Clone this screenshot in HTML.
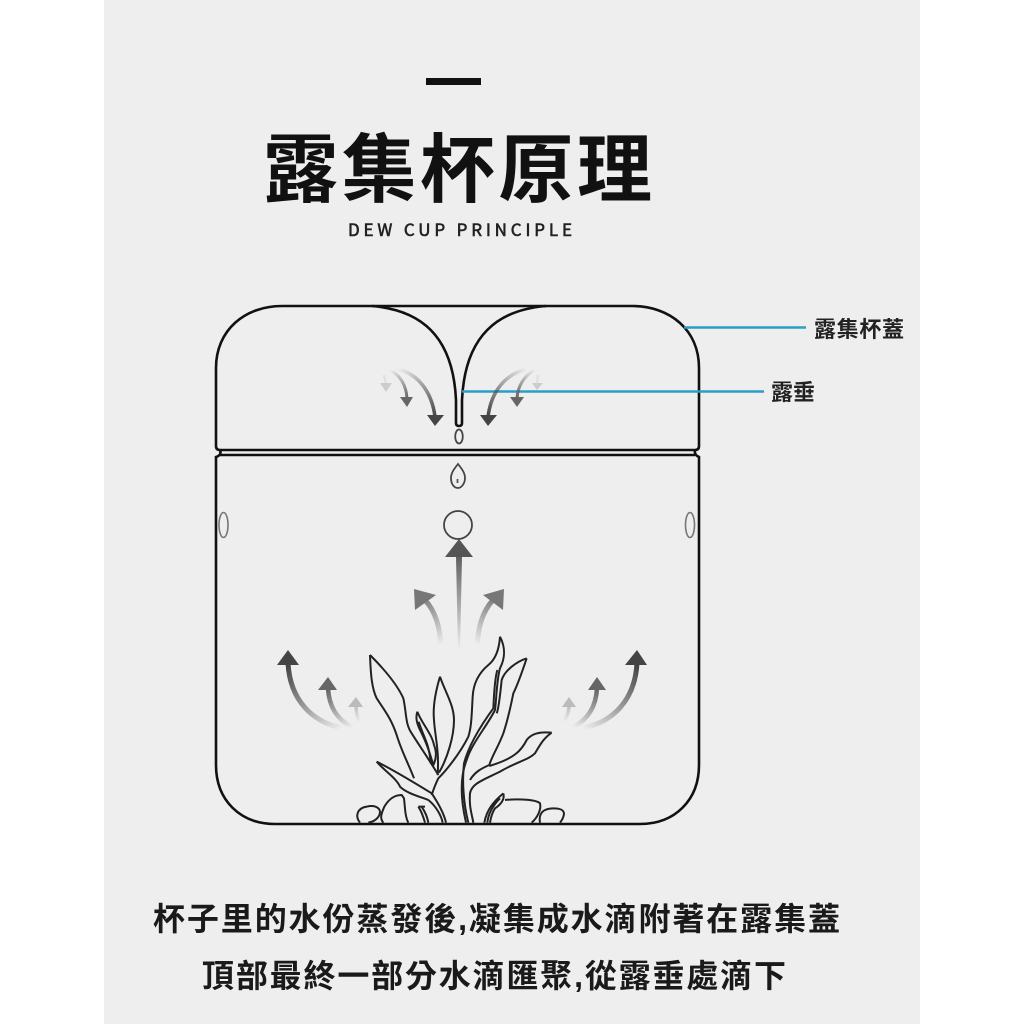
<!DOCTYPE html>
<html><head><meta charset="utf-8"><style>
html,body{margin:0;padding:0;background:#fff}
svg{display:block}
text{font-family:"Liberation Sans","Noto Sans CJK TC",sans-serif}
</style></head><body>
<svg width="1024" height="1024" viewBox="0 0 1024 1024" xmlns="http://www.w3.org/2000/svg">
<defs>
<linearGradient id="vc" gradientUnits="userSpaceOnUse" x1="459" y1="650" x2="459" y2="550"><stop offset="0" stop-color="#555" stop-opacity="0"/><stop offset="1" stop-color="#555"/></linearGradient>
<linearGradient id="u1" gradientUnits="userSpaceOnUse" x1="441" y1="645" x2="425" y2="595"><stop offset="0" stop-color="#777" stop-opacity="0"/><stop offset="1" stop-color="#777"/></linearGradient>
<linearGradient id="u2" gradientUnits="userSpaceOnUse" x1="477" y1="645" x2="493" y2="595"><stop offset="0" stop-color="#777" stop-opacity="0"/><stop offset="1" stop-color="#777"/></linearGradient>
<linearGradient id="l1" gradientUnits="userSpaceOnUse" x1="342" y1="728" x2="288" y2="665"><stop offset="0" stop-color="#444" stop-opacity="0"/><stop offset="1" stop-color="#444"/></linearGradient>
<linearGradient id="l2" gradientUnits="userSpaceOnUse" x1="352" y1="727" x2="328" y2="690"><stop offset="0" stop-color="#666" stop-opacity="0"/><stop offset="1" stop-color="#666"/></linearGradient>
<linearGradient id="l3" gradientUnits="userSpaceOnUse" x1="358" y1="722" x2="356" y2="705"><stop offset="0" stop-color="#bbb" stop-opacity="0"/><stop offset="1" stop-color="#bbb"/></linearGradient>
<linearGradient id="r1" gradientUnits="userSpaceOnUse" x1="583" y1="728" x2="637" y2="665"><stop offset="0" stop-color="#444" stop-opacity="0"/><stop offset="1" stop-color="#444"/></linearGradient>
<linearGradient id="r2" gradientUnits="userSpaceOnUse" x1="573" y1="727" x2="597" y2="690"><stop offset="0" stop-color="#666" stop-opacity="0"/><stop offset="1" stop-color="#666"/></linearGradient>
<linearGradient id="r3" gradientUnits="userSpaceOnUse" x1="564" y1="722" x2="569" y2="705"><stop offset="0" stop-color="#bbb" stop-opacity="0"/><stop offset="1" stop-color="#bbb"/></linearGradient>
<linearGradient id="a1" gradientUnits="userSpaceOnUse" x1="398" y1="369" x2="435" y2="417"><stop offset="0" stop-color="#444" stop-opacity="0"/><stop offset="1" stop-color="#444"/></linearGradient>
<linearGradient id="a2" gradientUnits="userSpaceOnUse" x1="390" y1="370" x2="407" y2="398"><stop offset="0" stop-color="#666" stop-opacity="0"/><stop offset="1" stop-color="#666"/></linearGradient>
<linearGradient id="a3" gradientUnits="userSpaceOnUse" x1="527" y1="369" x2="488" y2="417"><stop offset="0" stop-color="#444" stop-opacity="0"/><stop offset="1" stop-color="#444"/></linearGradient>
<linearGradient id="a4" gradientUnits="userSpaceOnUse" x1="535" y1="370" x2="517" y2="398"><stop offset="0" stop-color="#666" stop-opacity="0"/><stop offset="1" stop-color="#666"/></linearGradient>
</defs>
<rect x="104" y="0" width="816" height="1024" fill="#eeeeee"/>
<rect x="426" y="78" width="55" height="7" fill="#111"/>
<text x="263" y="196" font-size="75" font-weight="700" fill="#111" textLength="389" lengthAdjust="spacing">露集杯原理</text>
<text x="348" y="236" font-size="17" font-weight="400" fill="#222" stroke="#222" stroke-width="0.6" style="font-family:'Noto Sans CJK TC','Liberation Sans',sans-serif" textLength="224" lengthAdjust="spacing">DEW CUP PRINCIPLE</text>

<g fill="none" stroke="#111" stroke-width="2.6">
<path d="M216 446 V368 C216 330 245 306 282 306 H632 C670 306 699 330 699 368 V446 Q699 450 695 450 H220 Q216 450 216 446 Z"/>
<path d="M372 306 C420 310 453 335 456 400 V423 Q456 426 459 426 Q462 426 462 423 V400 C465 335 498 310 546 306"/>
<path d="M220 450 Q222 455 216 457 V765 C216 800 240 824 275 824 H640 C675 824 699 800 699 765 V457 Q694 455 695 450"/>
<path d="M220 455 H695"/>
</g>
<g fill="none" stroke="#444" stroke-width="1.800">
<ellipse cx="459" cy="436.500" rx="3.800" ry="7"/>
<path d="M458 464 C462 469 465 473 465 478 C465 484 461 488 458 488 C454 488 451 484 451 478 C451 473 454 469 458 464 Z"/>
<circle cx="458" cy="525" r="14"/>
</g>
<path d="M457.500 479 v4" stroke="#555" stroke-width="1.800"/>
<g fill="none" stroke="#777" stroke-width="1.600">
<ellipse cx="223.500" cy="525" rx="4.500" ry="12.500"/>
<ellipse cx="690" cy="525" rx="4.500" ry="12.500"/>
</g>

<g stroke="#2a9ec6" stroke-width="2.500">
<path d="M684 327.500 H806"/>
<path d="M462 391.500 H764"/>
</g>
<text x="814" y="337" font-size="22" font-weight="700" fill="#222" textLength="90" lengthAdjust="spacing">露集杯蓋</text>
<text x="771" y="400" font-size="22" font-weight="700" fill="#222" textLength="44" lengthAdjust="spacing">露垂</text>

<!-- lid arrows -->
<g fill="none" stroke-linecap="butt">
<path d="M398 369 C418 374 432 392 435 417" stroke="url(#a1)" stroke-width="3.500"/>
<path d="M390 370 C400 375 406 385 407 398" stroke="url(#a2)" stroke-width="3"/>
<path d="M527 369 C505 374 491 392 488 417" stroke="url(#a3)" stroke-width="3.500"/>
<path d="M535 370 C525 375 518 385 517 398" stroke="url(#a4)" stroke-width="3"/>
<path d="M384 375 L386 384 M538 375 L537 384" stroke="#e0e0e0" stroke-width="2.500"/>
</g>
<polygon points="427,415 444,415 435,426" fill="#444"/>
<polygon points="400,397 413,397 407,407" fill="#666"/>
<polygon points="380,383 392,383 386,392" fill="#ccc"/>
<polygon points="480,415 497,415 488,426" fill="#444"/>
<polygon points="510,397 524,397 517,407" fill="#666"/>
<polygon points="532,383 543,383 537,390" fill="#ccc"/>

<!-- rising arrows -->
<polygon points="456,557 462,557 460,650 458,650" fill="url(#vc)"/>
<polygon points="445,557 473,557 459,539" fill="#555"/>
<g fill="none">
<path d="M441 647 C440 628 436 612 425 600" stroke="url(#u1)" stroke-width="5"/>
<path d="M477 647 C478 628 482 612 493 600" stroke="url(#u2)" stroke-width="5"/>
<path d="M342 728 C312 722 290 700 288 663" stroke="url(#l1)" stroke-width="5"/>
<path d="M352 727 C338 720 329 708 328 688" stroke="url(#l2)" stroke-width="4.500"/>
<path d="M359 722 C357 716 356 712 356 705" stroke="url(#l3)" stroke-width="3.500"/>
<path d="M583 728 C613 722 635 700 637 663" stroke="url(#r1)" stroke-width="5"/>
<path d="M573 727 C587 720 596 708 597 688" stroke="url(#r2)" stroke-width="4.500"/>
<path d="M564 722 C567 716 569 712 569 705" stroke="url(#r3)" stroke-width="3.500"/>
</g>
<polygon points="414,589 436,595 415,610" fill="#777"/>
<polygon points="504,589 483,595 503,610" fill="#777"/>
<polygon points="288,650 277,665 299,665" fill="#444"/>
<polygon points="328,677 318,690 337,690" fill="#666"/>
<polygon points="356,697 348,707 363,707" fill="#bbb"/>
<polygon points="637,650 625,665 647,665" fill="#444"/>
<polygon points="597,677 588,690 606,690" fill="#666"/>
<polygon points="569,697 562,707 576,707" fill="#bbb"/>

<!-- plant -->
<g transform="translate(340,630) scale(0.33333)" fill="none" stroke="#222" stroke-width="6" stroke-linejoin="round">
<path d="M90 75 C130 115 170 160 190 205 C200 250 195 280 215 310 C240 350 265 385 295 435"/>
<path d="M90 75 C92 130 95 175 110 205 C140 250 155 270 170 315 C185 365 205 400 222 445"/>
<path d="M300 140 C285 190 278 230 282 270 C285 320 298 360 293 435"/>
<path d="M300 140 C315 185 342 225 342 270 C342 320 322 385 297 428"/>
<path d="M232 245 C225 265 232 285 245 310 C260 340 270 370 280 405 C290 385 290 365 282 345 C275 310 245 280 232 245"/>
<path d="M236 275 C250 320 268 340 272 400"/>
<path d="M480 20 C478 50 470 85 445 105 C415 130 400 160 398 200 C395 250 395 290 385 320 C360 370 320 420 295 445 C285 465 280 480 275 495"/>
<path d="M480 20 C498 55 495 85 480 115 C470 150 470 200 465 240 C440 290 395 340 380 390 C360 440 360 500 378 578"/>
<path d="M472 120 C463 150 462 200 460 235 C420 290 385 350 372 400 C366 450 370 520 385 578"/>
<path d="M560 85 C530 95 495 120 485 150 C480 200 475 240 470 250"/>
<path d="M560 85 C545 130 530 170 520 190 C510 240 500 280 490 310 C475 350 455 380 448 405 C425 415 405 425 390 450"/>
<path d="M635 308 C600 305 575 310 560 330 C545 360 525 385 448 408"/>
<path d="M635 308 C610 325 600 345 585 370 C565 390 530 395 480 425 C430 450 395 460 390 490 C387 530 395 550 400 578"/>
<path d="M110 395 C150 415 210 450 275 490 C295 520 312 550 318 578"/>
<path d="M110 395 C130 420 170 445 180 470 C200 490 240 500 265 510 C290 530 305 560 308 578"/>
<path d="M60 578 C45 560 50 535 80 530 C100 525 118 530 120 545 C120 565 100 575 85 578"/>
<path d="M130 578 C118 565 125 548 133 530 C145 510 160 495 185 495 L192 505 C195 530 195 560 205 578"/>
<path d="M235 530 C245 545 250 560 255 578 M245 530 C255 545 262 560 265 578 M235 530 L255 530"/>
<path d="M490 490 C460 515 440 540 433 578 M490 490 C495 510 480 525 465 535 C455 550 452 565 450 578 M480 505 C460 525 445 550 442 578"/>
<path d="M495 510 C540 505 590 510 600 520 C605 540 590 565 575 578"/>
<path d="M600 578 C595 550 610 535 640 535 C662 535 672 540 672 552 C670 565 665 572 660 578"/>
</g>

<text x="153" y="930" font-size="32" font-weight="700" fill="#1a1a1a" textLength="687" lengthAdjust="spacing">杯子里的水份蒸發後,凝集成水滴附著在露集蓋</text>
<text x="202" y="987" font-size="32" font-weight="700" fill="#1a1a1a" textLength="584" lengthAdjust="spacing">頂部最終一部分水滴匯聚,從露垂處滴下</text>
</svg>
</body></html>
